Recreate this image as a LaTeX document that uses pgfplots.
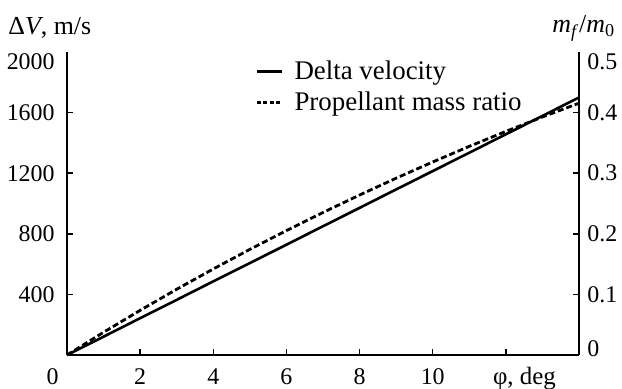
\documentclass[border=0pt]{standalone}
\usepackage{fontspec}
\setmainfont{Liberation Serif}
\usepackage{pgfplots}
\usepackage{pgfplotstable}
\pgfplotsset{compat=1.18}
\pgfplotstableread{
phi dv
0 0
1 121
2 243
3 364
4 486
5 607
6 728
7 850
8 971
9 1093
10 1214
11 1335
12 1457
13 1578
14 1700
}\dvtable
\pgfplotstableread{
phi mr
0 0
1 0.0375
2 0.0737
3 0.1085
4 0.1420
5 0.1743
6 0.2053
7 0.2352
8 0.2640
9 0.2918
10 0.3185
11 0.3443
12 0.3690
13 0.3928
14 0.4155
}\mrtable
\newcommand{\tfont}{\fontsize{12}{14}\selectfont}
\begin{document}
\begin{tikzpicture}
\useasboundingbox (0,0) rectangle (311bp,194.5bp);
\pgfplotsset{common/.style={scale only axis, width=256bp, height=151.5bp,
  at={(33.5bp,17bp)}, anchor=south west, xmin=0, xmax=14,
  tick align=inside, major tick length=3bp,
  every tick/.style={black, line width=0.75bp},
  axis line style={line width=0.75bp},
  every tick label/.append style={font=\tfont, inner sep=0pt},
  clip=false}}
\begin{axis}[common, axis x line*=bottom, axis y line*=left,
  ymin=0, ymax=2000, ytick={400,800,1200,1600},
  xtick={2,4,6,8,10,12}, xticklabels={2,4,6,8,10,{}},
  xticklabel style={font=\tfont, anchor=base, yshift=-14.75bp},
  yticklabels={400,800,1200,1600},
  yticklabel style={font=\tfont, anchor=east, xshift=-6bp},
  extra y ticks={2000}, extra y tick labels={2000},
  extra y tick style={major tick length=0pt, yticklabel style={yshift=-4.75bp}}]
\addplot[black, line width=1.3bp] table[x=phi,y=dv]{\dvtable};
\node[font=\tfont, anchor=base, inner sep=0pt] at ([xshift=-7.25bp, yshift=-14.75bp]rel axis cs:0,0) {0};
\node[font=\fontsize{12.5}{14}\selectfont, anchor=base, inner sep=0pt] at ([yshift=-14.75bp]axis cs:12.51,0) {φ, deg};
\end{axis}
\begin{axis}[common, axis x line=none, axis y line*=right,
  ymin=0, ymax=0.5, ytick={0.1,0.2,0.3,0.4},
  yticklabels={0.1,0.2,0.3,0.4},
  yticklabel style={font=\tfont, anchor=west, xshift=4bp},
  extra y ticks={0.5}, extra y tick labels={0.5},
  extra y tick style={major tick length=0pt, yticklabel style={yshift=-4.75bp}},
  legend style={at={(0.367,0.975)}, anchor=north west, draw=none, fill=none,
    font=\fontsize{13.5}{15}\selectfont, row sep=3.5bp, inner sep=0pt,
    nodes={inner sep=0.5bp}},
  legend cell align=left,
  legend image code/.code={\draw[#1] (0bp,0bp) -- (12.5bp,0bp);}]
\addlegendimage{black, line width=1.6bp}
\addlegendentry{\hspace{5bp}Delta velocity}
\addlegendimage{black, line width=1.3bp, dash pattern=on 2bp off 1.25bp}
\addlegendentry{\hspace{5bp}Propellant mass ratio}
\addplot[black, line width=1.4bp, dash pattern=on 3bp off 1.5bp, forget plot] table[x=phi,y=mr]{\mrtable};
\node[font=\tfont, anchor=west, inner sep=0pt] at ([xshift=4bp, yshift=3.25bp]rel axis cs:1,0) {0};
\end{axis}
\node[font=\fontsize{13}{15}\selectfont, anchor=base west, inner sep=0pt] at (4bp,177bp) {Δ\textit{V}, m/s};
\node[font=\fontsize{13}{15}\selectfont, anchor=base west, inner sep=0pt] at (276bp,178bp) {\textit{m}\textsubscript{\textit{f}}/\textit{m}\textsubscript{0}};
\end{tikzpicture}
\end{document}
